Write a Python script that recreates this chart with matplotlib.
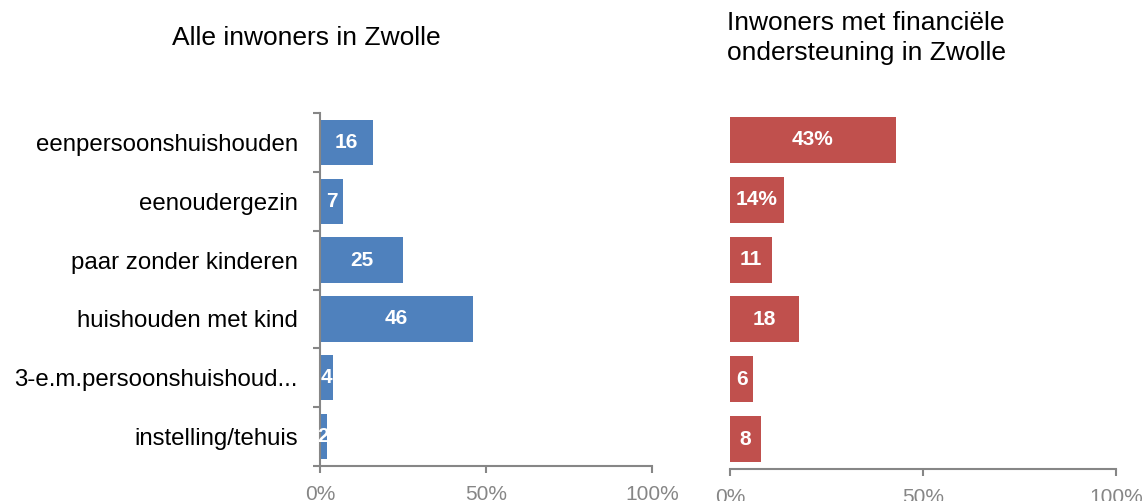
import matplotlib.pyplot as plt
import numpy as np

plt.rcParams['font.family'] = ['Liberation Sans', 'DejaVu Sans']

categories = ['eenpersoonshuishouden', 'eenoudergezin', 'paar zonder kinderen',
              'huishouden met kind', '3-e.m.persoonshuishoud...', 'instelling/tehuis']
alle = [16, 7, 25, 46, 4, 2]
alle_labels = ['16', '7', '25', '46', '4', '2']
steun = [43, 14, 11, 18, 6, 8]
steun_labels = ['43%', '14%', '11', '18', '6', '8']
xticks = [0, 50, 100]
xticklabels = ['0%', '50%', '100%']

blue = '#4F81BD'
red = '#C0504D'
grey = '#868686'

W, H = 1146, 501
fig = plt.figure(figsize=(W / 100, H / 100), dpi=100)


def box(x0, x1, y0, y1):
    return [x0 / W, 1 - y1 / H, (x1 - x0) / W, (y1 - y0) / H]


ax1 = fig.add_axes(box(320, 652, 113, 466))
ax2 = fig.add_axes(box(730, 1116, 110, 469))

y = np.arange(len(categories))


def panel(ax, vals, labels, color):
    ax.barh(y, vals, height=0.77, color=color, zorder=2)
    for yi, v, lab in zip(y, vals, labels):
        ax.text(v / 2, yi, lab, ha='center', va='center', color='white',
                fontsize=15, fontweight='bold', zorder=5)
    ax.set_xlim(0, 100)
    ax.set_ylim(len(categories) - 0.5, -0.5)
    ax.set_xticks(xticks)
    ax.set_xticklabels(xticklabels, fontsize=15, color=grey)
    ax.tick_params(axis='x', length=5, width=1.5, color=grey, pad=8.5)
    for s in ['top', 'right']:
        ax.spines[s].set_visible(False)
    ax.spines['bottom'].set_color(grey)
    ax.spines['bottom'].set_linewidth(1.5)


panel(ax1, alle, alle_labels, blue)
panel(ax2, steun, steun_labels, red)

# left panel: category names, ticks between the bars
ax1.spines['left'].set_color(grey)
ax1.spines['left'].set_linewidth(1.5)
ax1.set_yticks(y)
ax1.set_yticklabels(categories, fontsize=17.3)
ax1.set_yticks(np.arange(len(categories) + 1) - 0.5, minor=True)
ax1.tick_params(axis='y', which='major', length=0, pad=16)
ax1.tick_params(axis='y', which='minor', length=5, width=1.5, color=grey)

# right panel: no y axis
ax2.spines['left'].set_visible(False)
ax2.set_yticks([])

fig.text(306 / W, 1 - 38 / H, 'Alle inwoners in Zwolle', ha='center', va='center',
         fontsize=19)
fig.text(727 / W, 1 - 38 / H, 'Inwoners met financiële\nondersteuning in Zwolle',
         ha='left', va='center', fontsize=19, multialignment='left', linespacing=1.3)

fig.savefig('out.png', dpi=100)
